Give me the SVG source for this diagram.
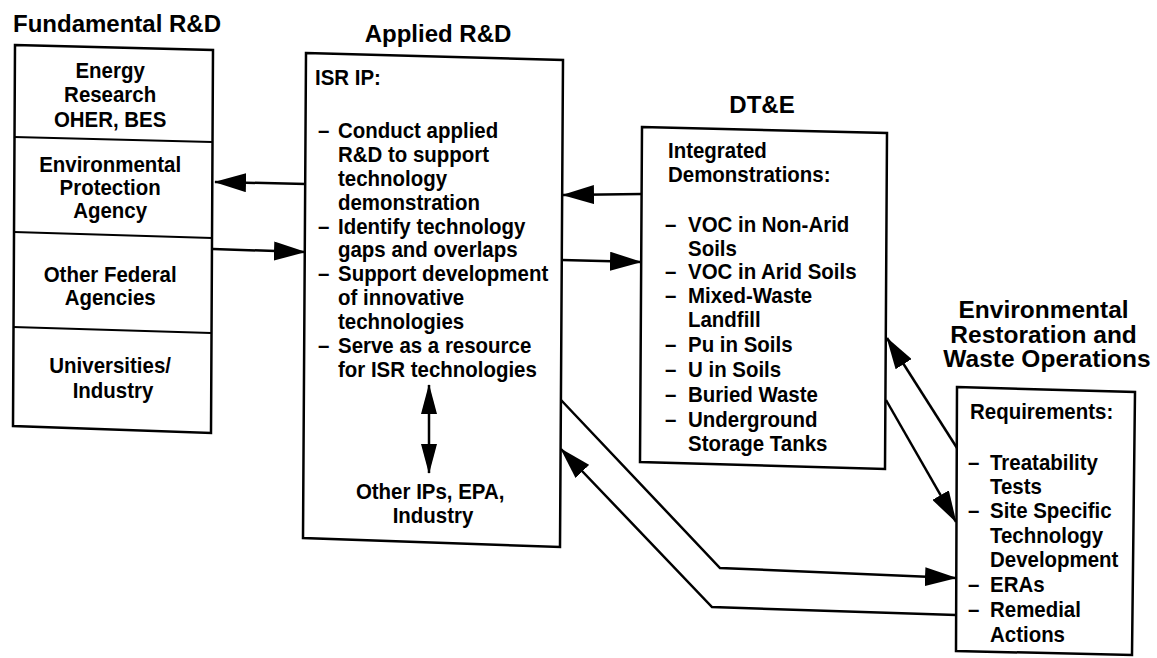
<svg xmlns="http://www.w3.org/2000/svg" width="1157" height="658" viewBox="0 0 1157 658">
  <style>
    .box { fill: #fff; stroke: #000; stroke-width: 2.5; stroke-linejoin: miter; }
    .div { stroke: #000; stroke-width: 2.2; fill: none; }
    .wire { fill: none; stroke: #000; stroke-width: 2.5; }
    .title { font-family: "Liberation Sans", Arial, sans-serif; font-weight: bold; font-size: 24.5px; fill: #000; }
    .body { font-family: "Liberation Sans", Arial, sans-serif; font-weight: bold; font-size: 22px; fill: #000; }
    .mid { text-anchor: middle; }
  </style>
  <defs>
    <marker id="arr" viewBox="0 0 32 19" refX="31" refY="9.5" markerWidth="32" markerHeight="19" markerUnits="userSpaceOnUse" orient="auto-start-reverse">
      <path d="M0,0 L32,9.5 L0,19 z" fill="#000"/>
    </marker>
    <marker id="arrS" viewBox="0 0 30 16" refX="29" refY="8" markerWidth="30" markerHeight="16" markerUnits="userSpaceOnUse" orient="auto-start-reverse">
      <path d="M0,0 L30,8 L0,16 z" fill="#000"/>
    </marker>
  </defs>

  <rect width="1157" height="658" fill="#fff"/>

  <!-- Fundamental R&D column -->
  <g id="fundamental">
    <text class="title" transform="translate(13,32) scale(0.98,1)">Fundamental R&amp;D</text>
    <polygon class="box" points="15,45 213,50 211,433 13,426"/>
    <line class="div" x1="14" y1="137" x2="212" y2="142"/>
    <line class="div" x1="14" y1="232" x2="212" y2="238"/>
    <line class="div" x1="13" y1="327" x2="211" y2="333"/>
    <text class="body mid" transform="translate(113,0) scale(0.93,1)">
      <tspan x="0" y="78">Energy</tspan>
      <tspan x="0" y="102">Research</tspan>
      <tspan x="0" y="127">OHER, BES</tspan>
      <tspan x="0" y="172">Environmental</tspan>
      <tspan x="0" y="195">Protection</tspan>
      <tspan x="0" y="218">Agency</tspan>
      <tspan x="0" y="282">Other Federal</tspan>
      <tspan x="0" y="305">Agencies</tspan>
      <tspan x="0" y="373">Universities/</tspan>
      <tspan x="0" y="398">Industry</tspan>
    </text>
  </g>

  <!-- Applied R&D column -->
  <g id="applied">
    <text class="title mid" transform="translate(438,42) scale(0.98,1)">Applied R&amp;D</text>
    <polygon class="box" points="306,53 563,60 560,547 303,538"/>
    <text class="body" transform="translate(315,0) scale(0.93,1)"><tspan x="0" y="85">ISR IP:</tspan></text>
    <text class="body" transform="translate(318,0) scale(0.93,1)">
      <tspan x="0" y="138">–</tspan>
      <tspan x="0" y="234">–</tspan>
      <tspan x="0" y="281">–</tspan>
      <tspan x="0" y="353">–</tspan>
    </text>
    <text class="body" transform="translate(338,0) scale(0.93,1)">
      <tspan x="0" y="138">Conduct applied</tspan>
      <tspan x="0" y="162">R&amp;D to support</tspan>
      <tspan x="0" y="186">technology</tspan>
      <tspan x="0" y="210">demonstration</tspan>
      <tspan x="0" y="234">Identify technology</tspan>
      <tspan x="0" y="257">gaps and overlaps</tspan>
      <tspan x="0" y="281">Support development</tspan>
      <tspan x="0" y="305">of innovative</tspan>
      <tspan x="0" y="329">technologies</tspan>
      <tspan x="0" y="353">Serve as a resource</tspan>
      <tspan x="0" y="377">for ISR technologies</tspan>
    </text>
    <line class="wire" x1="429" y1="385" x2="429" y2="473" marker-start="url(#arrS)" marker-end="url(#arrS)"/>
    <text class="body mid" transform="translate(433,0) scale(0.93,1)">
      <tspan x="0" y="499">Other IPs, EPA,</tspan>
      <tspan x="0" y="523">Industry</tspan>
    </text>
  </g>

  <!-- DT&E column -->
  <g id="dte">
    <text class="title mid" transform="translate(762,113) scale(0.98,1)">DT&amp;E</text>
    <polygon class="box" points="642,127 887,133 885,469 640,462"/>
    <text class="body" transform="translate(668,0) scale(0.93,1)">
      <tspan x="0" y="158">Integrated</tspan>
      <tspan x="0" y="182">Demonstrations:</tspan>
    </text>
    <text class="body" transform="translate(665,0) scale(0.93,1)">
      <tspan x="0" y="232">–</tspan>
      <tspan x="0" y="279">–</tspan>
      <tspan x="0" y="303">–</tspan>
      <tspan x="0" y="352">–</tspan>
      <tspan x="0" y="377">–</tspan>
      <tspan x="0" y="402">–</tspan>
      <tspan x="0" y="427">–</tspan>
    </text>
    <text class="body" transform="translate(688,0) scale(0.93,1)">
      <tspan x="0" y="232">VOC in Non-Arid</tspan>
      <tspan x="0" y="256">Soils</tspan>
      <tspan x="0" y="279">VOC in Arid Soils</tspan>
      <tspan x="0" y="303">Mixed-Waste</tspan>
      <tspan x="0" y="327">Landfill</tspan>
      <tspan x="0" y="352">Pu in Soils</tspan>
      <tspan x="0" y="377">U in Soils</tspan>
      <tspan x="0" y="402">Buried Waste</tspan>
      <tspan x="0" y="427">Underground</tspan>
      <tspan x="0" y="451">Storage Tanks</tspan>
    </text>
  </g>

  <!-- Environmental Restoration and Waste Operations column -->
  <g id="erwo">
    <text class="title mid" transform="translate(1047,0) scale(1,0.98)">
      <tspan x="0" y="324">Environmental</tspan>
      <tspan x="0" y="350">Restoration and</tspan>
      <tspan x="0" y="375">Waste Operations</tspan>
    </text>
    <polygon class="box" points="957,387 1135,392 1132,655 956,651"/>
    <text class="body" transform="translate(970,0) scale(0.93,1)"><tspan x="0" y="419">Requirements:</tspan></text>
    <text class="body" transform="translate(968,0) scale(0.93,1)">
      <tspan x="0" y="470">–</tspan>
      <tspan x="0" y="518">–</tspan>
      <tspan x="0" y="592">–</tspan>
      <tspan x="0" y="617">–</tspan>
    </text>
    <text class="body" transform="translate(990,0) scale(0.93,1)">
      <tspan x="0" y="470">Treatability</tspan>
      <tspan x="0" y="494">Tests</tspan>
      <tspan x="0" y="518">Site Specific</tspan>
      <tspan x="0" y="543">Technology</tspan>
      <tspan x="0" y="567">Development</tspan>
      <tspan x="0" y="592">ERAs</tspan>
      <tspan x="0" y="617">Remedial</tspan>
      <tspan x="0" y="642">Actions</tspan>
    </text>
  </g>

  <!-- Connectors -->
  <g id="connectors">
    <line class="wire" x1="306" y1="184" x2="215" y2="182" marker-end="url(#arr)"/>
    <line class="wire" x1="213" y1="249" x2="305" y2="252" marker-end="url(#arr)"/>
    <line class="wire" x1="642" y1="194" x2="563" y2="195" marker-end="url(#arr)"/>
    <line class="wire" x1="562" y1="260" x2="641" y2="262" marker-end="url(#arr)"/>
    <polyline class="wire" points="561,400 720,568 956,578" marker-end="url(#arr)"/>
    <polyline class="wire" points="956,615 712,607 561,449" marker-end="url(#arr)"/>
    <line class="wire" x1="957" y1="448" x2="887" y2="338" marker-end="url(#arr)"/>
    <line class="wire" x1="886" y1="400" x2="956" y2="522" marker-end="url(#arr)"/>
  </g>
</svg>
